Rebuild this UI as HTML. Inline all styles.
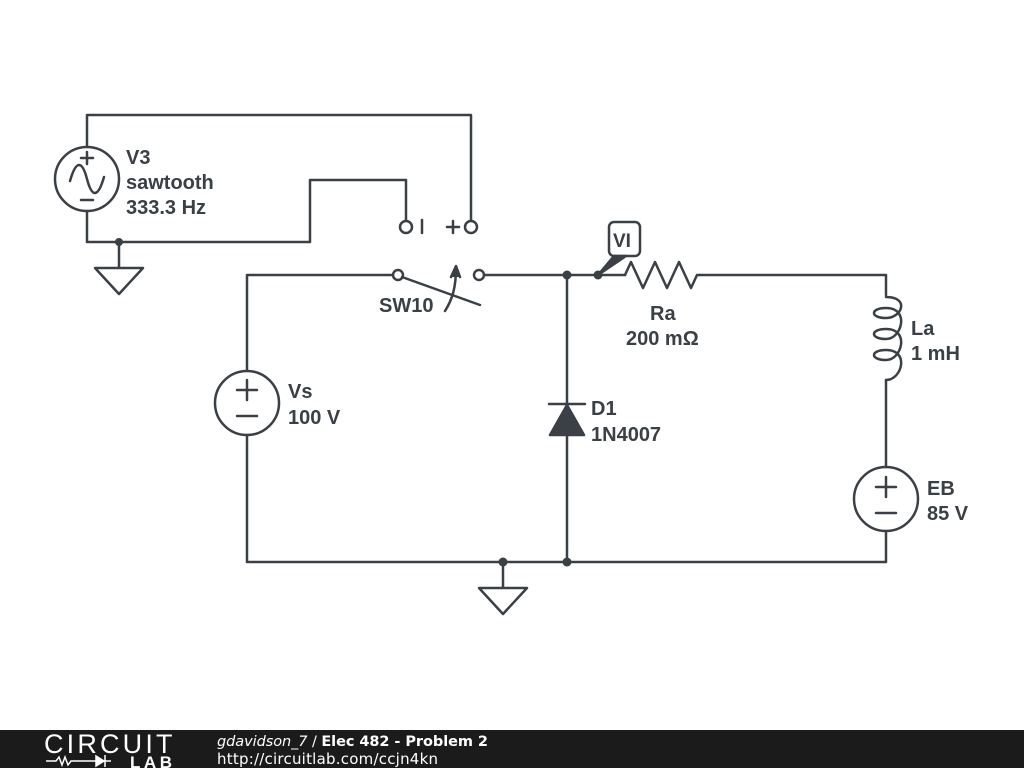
<!DOCTYPE html>
<html><head><meta charset="utf-8"><style>
html,body{margin:0;padding:0;background:#fff;}
svg{display:block;}
text{font-family:"Liberation Sans",sans-serif;fill:#3a4046;font-weight:bold;font-size:20px;}
</style></head><body>
<svg width="1024" height="768" viewBox="0 0 1024 768" xmlns="http://www.w3.org/2000/svg">
<g stroke="#3a4046" stroke-width="2.5" fill="none" stroke-linecap="round" stroke-linejoin="round">
<path d="M87,147 V115 H471 V221"/>
<path d="M87,211 V242 H310 V180 H406 V221"/>
<circle cx="87" cy="179" r="32"/>
<path d="M70,181 C76,160 82,160 87,179 C92,198 98,198 104,177"/>
<path d="M81,158 h12 M87,152 v12 M81,200 h12"/>
<circle cx="406" cy="227" r="6" fill="#fff"/>
<circle cx="471" cy="227" r="6" fill="#fff"/>
<path d="M422,220 v13 M447,227 h12 M453,221 v12"/>
<path d="M119,242 V268 M95,268 H143 L119,294 Z"/>
<path d="M393,275 H247 V371 M247,435 V562 H886 V531 M886,467 V380 M886,295 V275 H700 M625,275 H485"/>
<circle cx="398" cy="275" r="5" fill="#fff"/>
<circle cx="479" cy="275" r="5" fill="#fff"/>
<path d="M402,277 L480,305"/>
<path d="M445,311 C452,300 456,288 456,268"/>
<path d="M451,277 L456,266 L460,277" fill="#3a4046"/>
<path d="M625,275 L631,262 L643,288 L655,262 L667,288 L679,262 L691,288 L697,275 L700,275"/>
<path d="M886,297 C910,297 902,318 886,318 C870,318 870,308 886,308 C910,308 902,339 886,339 C870,339 870,329 886,329 C910,329 902,360 886,360 C870,360 870,350 886,350 C910,350 902,380 886,380"/>
<circle cx="247" cy="403" r="32"/>
<path d="M237,390 h20 M247,380 v20 M237,416 h20"/>
<circle cx="886" cy="499" r="32"/>
<path d="M876,487 h20 M886,477 v20 M876,513 h20"/>
<path d="M567,275 V562"/>
<path d="M549,404 H585"/>
<path d="M567,405 L584,435 H550 Z" fill="#3a4046"/>
<path d="M503,562 V588 M479,588 H527 L503,614 Z"/>
<rect x="609" y="222" width="31" height="34" rx="5" fill="#fff"/>
<path d="M598,275 L614,256 H626 Z" fill="#3a4046"/>
</g>
<g fill="#3a4046">
<circle cx="119" cy="242" r="4"/>
<circle cx="567" cy="275" r="4.5"/>
<circle cx="598" cy="275" r="4.5"/>
<circle cx="567" cy="562" r="4.5"/>
<circle cx="503" cy="562" r="4.5"/>
</g>
<text x="613" y="247" style="font-size:19px">VI</text>
<text x="126" y="164">V3</text>
<text x="126" y="189">sawtooth</text>
<text x="126" y="214">333.3 Hz</text>
<text x="379" y="312">SW10</text>
<text x="650" y="320">Ra</text>
<text x="626" y="345">200 mΩ</text>
<text x="911" y="335">La</text>
<text x="911" y="360">1 mH</text>
<text x="288" y="398">Vs</text>
<text x="288" y="424">100 V</text>
<text x="591" y="415">D1</text>
<text x="591" y="441">1N4007</text>
<text x="927" y="495">EB</text>
<text x="927" y="520">85 V</text>
<rect x="0" y="730" width="1024" height="38" fill="#1b1b1b"/>
<text x="44" y="753" style="fill:#fff;font-weight:normal;font-size:27px;letter-spacing:-0.5px" textLength="128">CIRCUIT</text>
<path d="M46,761 h10 l3,-4 l3,8 l3,-8 l3,8 l3,-4 h8 M79,761 h32" stroke="#fff" stroke-width="1.5" fill="none"/>
<path d="M96,756 L104,761 L96,766 Z M105,755 v12" fill="#fff" stroke="#fff" stroke-width="1.5"/>
<text x="130" y="768" style="fill:#fff;font-size:17px" textLength="42">LAB</text>
<text x="217" y="746" textLength="271" style="fill:#fff;font-weight:normal;font-size:14.5px;font-family:'DejaVu Sans',sans-serif"><tspan font-style="italic">gdavidson_7</tspan> / <tspan font-weight="bold">Elec 482 - Problem 2</tspan></text>
<text x="217" y="764" textLength="221" style="fill:#fff;font-weight:normal;font-size:15px;font-family:'DejaVu Sans',sans-serif">http://circuitlab.com/ccjn4kn</text>
</svg>
</body></html>
